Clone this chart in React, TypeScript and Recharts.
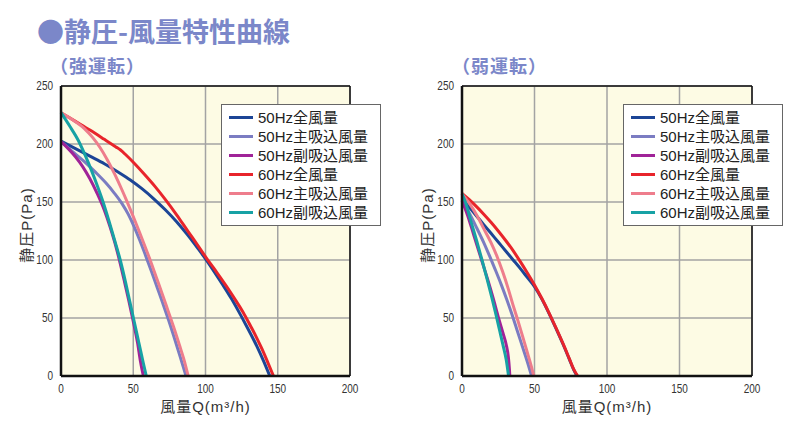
import { LineChart, Line, XAxis, YAxis, CartesianGrid, Legend, ReferenceLine } from 'recharts'

type Pt = { q: number; p: number }

const seriesNames = ['50Hz全風量', '50Hz主吸込風量', '50Hz副吸込風量', '60Hz全風量', '60Hz主吸込風量', '60Hz副吸込風量']
const seriesColors = ['#1c4596', '#7b7cc2', '#a02398', '#e8242b', '#ee7d8c', '#17a2a5']

const xTicks = [0, 50, 100, 150, 200]
const yTicks = [0, 50, 100, 150, 200, 250]

// 強運転  [風量Q, 静圧P]
const strong50Total = [[0, 202.5], [10, 196], [20, 189.5], [30, 183], [40, 175.5], [48, 169], [56, 161.5], [64, 153], [72, 143.5], [80, 133], [88, 121], [95, 109.5], [100, 101], [106, 90], [112, 78.5], [118, 66.5], [123, 55.5], [128, 44], [132, 34.5], [136, 24.5], [140, 13.5], [144.5, 0]]
const strong50Main = [[0, 202], [8, 193.5], [16, 185], [24, 175.5], [31, 166.5], [37, 157.5], [42, 149], [46.5, 139.5], [50.5, 129], [54.5, 117], [58.5, 104], [62.5, 90.5], [66.5, 76.5], [70.5, 62.5], [74.5, 48], [78.5, 32.5], [82.5, 16.5], [86.5, 0]]
const strong50Sub = [[0, 202], [5, 196], [10, 189], [15, 180.5], [20, 170], [25, 157.5], [30, 143], [34, 128.5], [37.5, 114], [40.5, 99.5], [44, 81], [47, 64.5], [50, 47], [53, 28.5], [55, 12.5], [57, 0]]
const strong60Total = [[0, 227], [10, 219.5], [20, 212], [30, 204], [38, 197.5], [41, 195], [45, 190.5], [51, 183], [58, 173.5], [65, 163.5], [72, 152.5], [80, 139], [88, 124.5], [95, 112], [101, 101], [108, 89], [115, 76.5], [121, 65], [126, 55], [131, 43.5], [135, 34], [139, 23.5], [143, 12], [147, 0]]
const strong60Main = [[0, 227], [8, 221], [16, 213.5], [22, 205.5], [27, 197], [32, 186.5], [37, 174.5], [42, 161], [46, 149.5], [50, 137.5], [54, 125], [58, 112], [62, 99], [66, 85], [70, 71], [74, 56.5], [78, 42], [82, 26.5], [85, 14.5], [88, 0]]
const strong60Sub = [[0, 227], [6, 215.5], [12, 203], [17, 189.5], [21, 177.5], [25, 164.5], [29, 150.5], [33, 134.5], [37, 117.5], [41, 100], [45, 79], [48, 62], [51, 45], [54, 28], [57, 11], [59, 0]]

// 弱運転
const weak50Total = [[0, 153], [5, 145.5], [10, 138], [15, 130.5], [20, 123], [25, 115.5], [30, 108], [35, 100.5], [40, 93], [45, 85], [50, 77], [55, 66.5], [60, 54], [65, 40.5], [70, 26.5], [74, 14.5], [77, 5.5], [79.3, 0]]
const weak50Main = [[0, 152], [5, 140.5], [10, 128], [15, 115], [19, 103.5], [23, 91.5], [27, 79], [31, 65.5], [34.6, 52.5], [38, 39.5], [41.5, 26], [45, 12.5], [48, 0]]
const weak50Sub = [[0, 151], [4, 138], [8, 122], [13.5, 100], [17.5, 84], [21.5, 67], [25.2, 50], [28.5, 36], [30.5, 27], [32, 16], [32.7, 6], [33, 0]]
const weak60Total = [[0, 157.5], [5, 152], [10, 146], [15, 139.5], [20, 132.5], [25, 125], [30, 117], [35, 108.5], [40, 99], [45, 89], [50, 78.5], [55, 67], [60, 54.5], [65, 41], [70, 27], [74, 15], [77, 6], [79.8, 0]]
const weak60Main = [[0, 157], [5, 149], [10, 139], [15, 127], [20, 115], [24.5, 102], [28, 90], [31.7, 76], [35, 62], [38, 50], [41.5, 35.5], [45, 20.5], [48, 7.5], [49.5, 0]]
const weak60Sub = [[0, 157], [2.3, 150], [6, 134], [10, 117], [13.8, 100], [17, 85], [20.5, 68], [23.6, 52], [26, 39], [28.2, 27], [30.5, 14], [32.1, 0]]

const toPts = (rows: number[][]): Pt[] => rows.map(([q, p]) => ({ q, p }))

const strongSeries = [strong50Total, strong50Main, strong50Sub, strong60Total, strong60Main, strong60Sub].map(toPts)
const weakSeries = [weak50Total, weak50Main, weak50Sub, weak60Total, weak60Main, weak60Sub].map(toPts)

const tickFont = "'Liberation Sans', Arial, sans-serif"
const labelFont = "'Liberation Sans', 'Noto Sans CJK JP', sans-serif"
const cjkFont = "'Noto Sans CJK JP', sans-serif"

// narrow-looking tick digits like the original print
const XTick = ({ x, y, payload }: any) => (
  <g transform={`translate(${x},${y}) scale(0.8,1)`}>
    <text x={0} y={0} dy="0.71em" textAnchor="middle" fill="#333" fontSize={12.5} fontFamily={tickFont}>
      {payload.value}
    </text>
  </g>
)

const YTick = ({ x, y, payload }: any) => (
  <g transform={`translate(${x},${y}) scale(0.8,1)`}>
    <text x={0} y={0} dy="0.355em" textAnchor="end" fill="#333" fontSize={12.5} fontFamily={tickFont}>
      {payload.value}
    </text>
  </g>
)

const renderLegend = () => (
  <div style={{ background: '#fff', border: '1px solid #666', padding: '3px 0', width: 158 }}>
    {seriesNames.map((name, i) => (
      <div key={name} style={{ display: 'flex', alignItems: 'center', height: 19 }}>
        <div style={{ width: 24, height: 3, background: seriesColors[i], marginLeft: 7, marginRight: 5 }} />
        <span style={{ fontFamily: labelFont, fontSize: 15, lineHeight: '19px', color: '#222', whiteSpace: 'nowrap' }}>
          {name}
        </span>
      </div>
    ))}
  </div>
)

function PqChart({ series, marginLeft, marginRight, legendLeft }: {
  series: Pt[][]
  marginLeft: number
  marginRight: number
  legendLeft: number
}) {
  return (
    <LineChart width={400} height={444} margin={{ top: 86, right: marginRight, left: marginLeft, bottom: 28 }}>
      <CartesianGrid stroke="#a3a3a3" strokeWidth={1.5} fill="#fdfbe4" />
      <XAxis
        type="number"
        dataKey="q"
        domain={[0, 200]}
        ticks={xTicks}
        height={40}
        tickLine={false}
        axisLine={{ stroke: '#111', strokeWidth: 2.5 }}
        tick={<XTick />}
        label={{ value: '風量Q(m³/h)', position: 'insideBottom', offset: 4, style: { fontSize: 15, letterSpacing: 1, fill: '#333', fontFamily: labelFont } }}
      />
      <YAxis
        type="number"
        domain={[0, 250]}
        ticks={yTicks}
        width={40}
        tickLine={false}
        axisLine={{ stroke: '#111', strokeWidth: 2.5 }}
        tick={<YTick />}
      />
      <ReferenceLine y={250} stroke="#111" strokeWidth={1.5} />
      <ReferenceLine x={200} stroke="#111" strokeWidth={1.5} />
      <Legend
        layout="vertical"
        align="center"
        verticalAlign="middle"
        content={renderLegend}
        wrapperStyle={{ left: legendLeft, top: 104, width: 'auto' }}
      />
      {series.map((pts, i) => (
        <Line
          key={seriesNames[i]}
          data={pts}
          dataKey="p"
          name={seriesNames[i]}
          type="monotone"
          stroke={seriesColors[i]}
          strokeWidth={3}
          dot={false}
          activeDot={false}
          isAnimationActive={false}
        />
      ))}
    </LineChart>
  )
}

const subStyle = {
  position: 'absolute' as const,
  top: 56,
  fontSize: 18,
  lineHeight: '18px',
  fontWeight: 700,
  letterSpacing: 1,
  color: '#7b87c9',
  fontFamily: cjkFont,
}

const yLabelStyle = {
  position: 'absolute' as const,
  top: 216,
  width: 110,
  height: 18,
  lineHeight: '18px',
  textAlign: 'center' as const,
  fontSize: 15,
  letterSpacing: 1,
  color: '#333',
  fontFamily: labelFont,
  transform: 'rotate(-90deg)',
  whiteSpace: 'nowrap' as const,
}

export default function App() {
  return (
    <div style={{ position: 'absolute', left: 0, top: 0, width: 800, height: 444, background: '#fff', overflow: 'hidden' }}>
      <div
        style={{
          position: 'absolute',
          left: 37,
          top: 17,
          fontSize: 27,
          lineHeight: '27px',
          fontWeight: 700,
          color: '#7b87c9',
          fontFamily: cjkFont,
        }}
      >
        ●静圧-風量特性曲線
      </div>
      <div style={{ ...subStyle, left: 50 }}>（強運転）</div>
      <div style={{ ...subStyle, left: 452 }}>（弱運転）</div>
      <div style={{ position: 'absolute', left: 0, top: 0 }}>
        <PqChart series={strongSeries} marginLeft={21} marginRight={50} legendLeft={221} />
      </div>
      <div style={{ position: 'absolute', left: 400, top: 0 }}>
        <PqChart series={weakSeries} marginLeft={22} marginRight={48} legendLeft={223} />
      </div>
      <div style={{ ...yLabelStyle, left: 27 - 55 }}>静圧P(Pa)</div>
      <div style={{ ...yLabelStyle, left: 428 - 55 }}>静圧P(Pa)</div>
    </div>
  )
}
